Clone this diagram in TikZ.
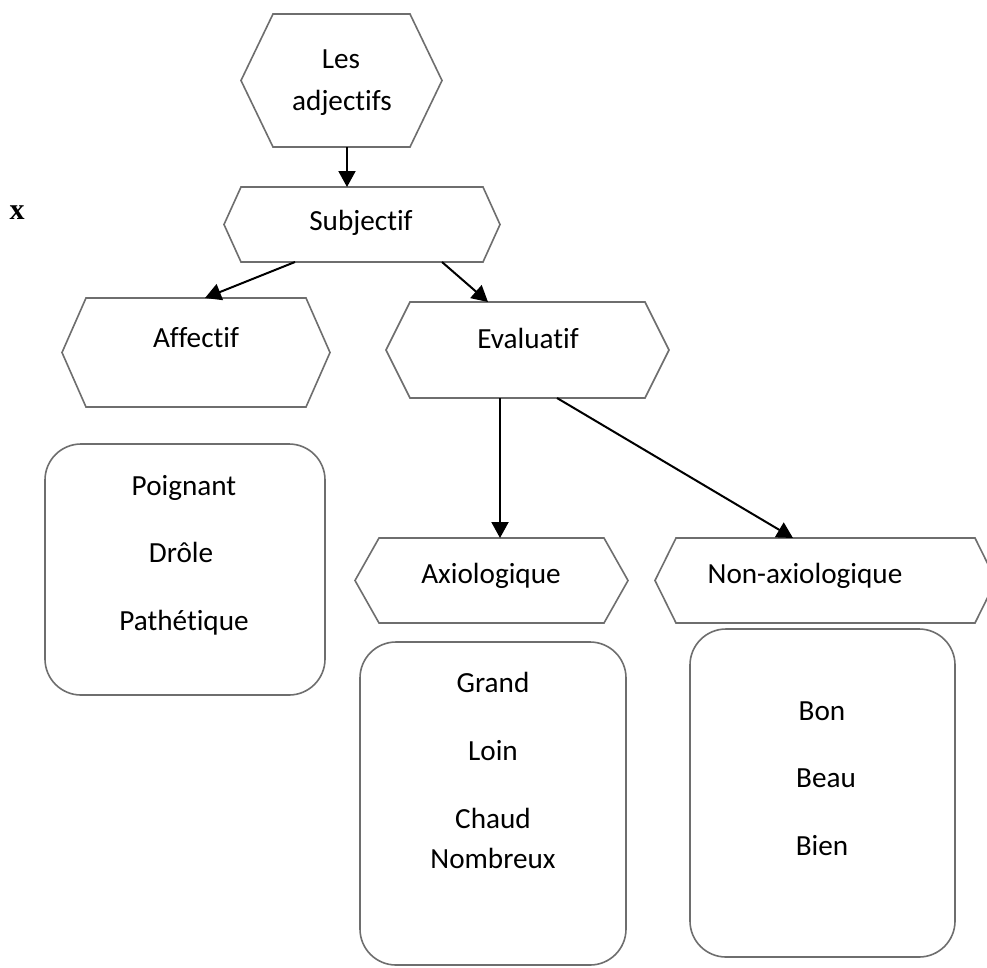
\documentclass[tikz,border=0pt]{standalone}
\usepackage{fontspec}
\setmainfont{Carlito}[Ligatures=NoCommon]
\newfontfamily\serifx{Liberation Serif}
\usetikzlibrary{arrows.meta}
\definecolor{outlinegray}{RGB}{110,110,110}
\tikzset{
  shapebox/.style={draw=none,inner sep=0pt,outer sep=0pt},
  outline/.style={draw=outlinegray,line width=1.6pt,line join=miter},
  roundbox/.style={shapebox,draw=outlinegray,line width=1.6pt,rounded corners=36pt},
  lbl/.style={font=\fontsize{29.2}{34}\selectfont,anchor=base,inner sep=0pt},
  link/.style={draw=black,line width=2pt,-{Triangle[length=16pt,width=17pt]}},
}
\newcommand\hexshape[2]{%
  \draw[outline] (#1.west) -- ([xshift=#2]#1.north west) -- ([xshift=-#2]#1.north east)
    -- (#1.east) -- ([xshift=-#2]#1.south east) -- ([xshift=#2]#1.south west) -- cycle;}
\begin{document}
\begin{tikzpicture}[x=1pt,y=-1pt]
\clip (0,0) rectangle (987,967);
\fill[white] (0,0) rectangle (987,967);
% hexagon frames
\node[shapebox,minimum width=201pt,minimum height=133pt] (les) at (341.5,80.5) {};
\node[shapebox,minimum width=276pt,minimum height=75pt] (sub) at (362,224.5) {};
\node[shapebox,minimum width=268pt,minimum height=109pt] (aff) at (196,352.5) {};
\node[shapebox,minimum width=283pt,minimum height=96pt] (eva) at (527.5,350) {};
\node[shapebox,minimum width=273pt,minimum height=85pt] (axi) at (491.5,580.5) {};
\node[shapebox,minimum width=341pt,minimum height=85pt] (non) at (825.5,580.5) {};
\hexshape{les}{32pt}
\hexshape{sub}{17pt}
\hexshape{aff}{24pt}
\hexshape{eva}{24pt}
\hexshape{axi}{24pt}
\hexshape{non}{21pt}
% rounded boxes
\node[roundbox,minimum width=280pt,minimum height=251pt] (abox) at (185,569.5) {};
\node[roundbox,minimum width=266pt,minimum height=323pt] (bbox) at (493,803.5) {};
\node[roundbox,minimum width=265pt,minimum height=328pt] (cbox) at (822.5,793) {};
% texts
\node[lbl] (tles) at (341,68) {Les};
\node[lbl] (tadj) at (342,110) {adjectifs};
\node[lbl] (tsub) at (361,230) {Subjectif};
\node[lbl] (taff) at (196,347) {Affectif};
\node[lbl] (teva) at (528,348) {Evaluatif};
\node[lbl] (taxi) at (491,583) {Axiologique};
\node[lbl] (tnon) at (805,583) {Non-axiologique};
\node[lbl] (a1) at (184,495) {Poignant};
\node[lbl] (a2) at (181,562) {Drôle};
\node[lbl] (a3) at (184,630) {Pathétique};
\node[lbl] (b1) at (493,692) {Grand};
\node[lbl] (b2) at (493,760) {Loin};
\node[lbl] (b3) at (493,828) {Chaud};
\node[lbl] (b4) at (493,868) {Nombreux};
\node[lbl] (c1) at (822,720) {Bon};
\node[lbl] (c2) at (826,787) {Beau};
\node[lbl] (c3) at (822,855) {Bien};
\node[anchor=base,inner sep=0pt,font=\serifx\bfseries\fontsize{30}{36}\selectfont] (xmark) at (17,219) {x};
% connectors
\draw[link] ([xshift=5.5pt]les.south) -- ([xshift=-15pt]sub.north);
\draw[link] ([xshift=-67pt]sub.south) -- ([xshift=9pt]aff.north);
\draw[link] ([xshift=80pt]sub.south) -- ([xshift=-39.5pt]eva.north);
\draw[link] ([xshift=-27.5pt]eva.south) -- ([xshift=8.5pt]axi.north);
\draw[link] ([xshift=29.5pt]eva.south) -- ([xshift=-32.5pt]non.north);
\end{tikzpicture}
\end{document}
